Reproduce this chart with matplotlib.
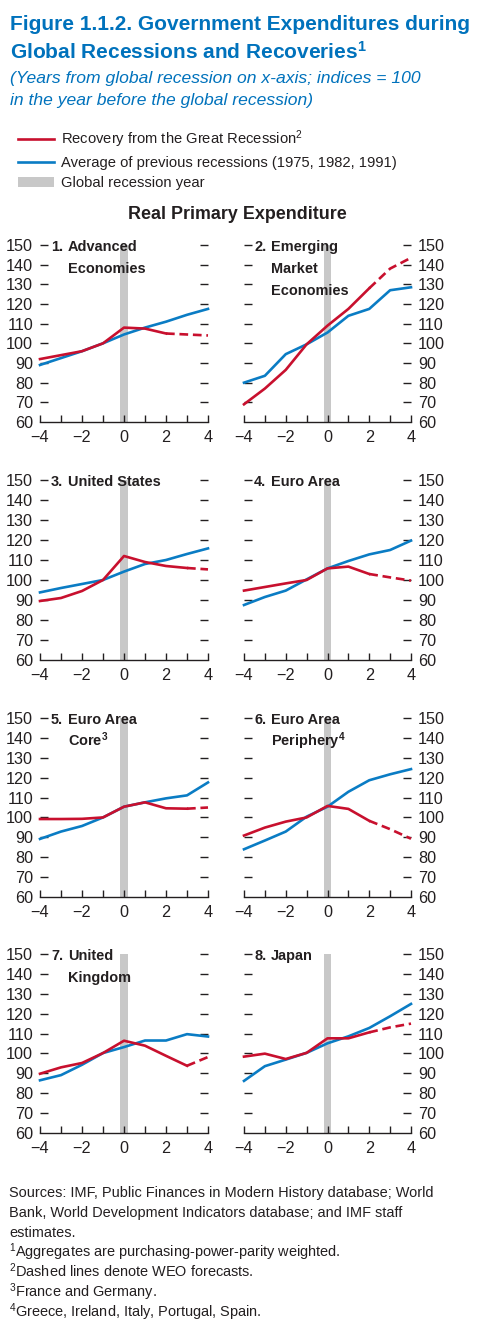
import matplotlib
matplotlib.use("Agg")
import matplotlib.pyplot as plt
from matplotlib.lines import Line2D
from matplotlib.patches import Patch

# Fonts: Arial-metric sans; sizes are fitted to the widths of the condensed original
plt.rcParams["font.family"] = ["Liberation Sans", "DejaVu Sans"]
plt.rcParams["mathtext.fontset"] = "custom"
plt.rcParams["mathtext.rm"] = "Liberation Sans"
plt.rcParams["mathtext.it"] = "Liberation Sans:italic"
plt.rcParams["mathtext.bf"] = "Liberation Sans:bold"

RED = "#C8102E"
BLUE = "#0A7CC4"
TITLE_BLUE = "#0072BC"
GRAY = "#C8C8C8"
INK = "#231F20"

W, H = 500, 1325

# Data: years from global recession, index = 100 in year before
years = [-4, -3, -2, -1, 0, 1, 2, 3, 4]

red_adv = [92, 94, 96, 100, 108, 107.5, 105, 104.5, 104]
blue_adv = [89, 92.5, 96, 100, 104.5, 108, 111, 114.5, 117.5]

red_em = [69, 77, 86.5, 99.5, 109, 117.5, 128, 138, 143.5]
blue_em = [80, 83.5, 94.5, 99.5, 105.5, 114, 117.5, 127, 128.5]

red_us = [89.5, 91, 94.5, 100, 112, 109, 107, 106, 105.3]
blue_us = [93.8, 96, 98, 100, 104.2, 108, 110, 113, 115.8]

red_ea = [94.7, 96.5, 98.3, 100, 105.8, 106.7, 103, 101.3, 99.7]
blue_ea = [87.5, 91.5, 94.7, 100.3, 105.8, 109.5, 112.8, 115, 119.7]

red_core = [99.2, 99.2, 99.3, 100, 105.4, 107.6, 104.6, 104.4, 105]
blue_core = [89.2, 92.9, 95.7, 100, 105.4, 107.6, 109.6, 111.1, 117.6]

red_peri = [90.9, 94.9, 97.9, 100, 105.8, 104.3, 98.3, 94.1, 89.3]
blue_peri = [84, 88.4, 92.9, 100.4, 105.4, 112.9, 118.7, 121.7, 124.3]

red_uk = [89.8, 93, 95.2, 100.2, 106.4, 103.9, 98.8, 93.8, 98.2]
blue_uk = [86.5, 89.1, 94.3, 100.2, 103.2, 106.5, 106.5, 109.7, 108.5]

red_jp = [98.4, 99.9, 97.2, 100.3, 107.6, 107.6, 110.6, 113.1, 115]
blue_jp = [86.2, 93.6, 96.9, 100.3, 105.1, 108.6, 112.8, 118.7, 124.9]

# first year of WEO forecast (dashed from here on)
forecast_start = [2, 2, 3, 2, 3, 2, 3, 2]

numbers = ["1.", "2.", "3.", "4.", "5.", "6.", "7.", "8."]
names = [
    ["Advanced", "Economies"],
    ["Emerging", "Market", "Economies"],
    ["United States"],
    ["Euro Area"],
    ["Euro Area", r"Core$^{\mathbf{3}}$"],
    ["Euro Area", r"Periphery$^{\mathbf{4}}$"],
    ["United", "Kingdom"],
    ["Japan"],
]

yticks = [60, 70, 80, 90, 100, 110, 120, 130, 140, 150]
xtick_labels = ["\u22124", "", "\u22122", "", "0", "", "2", "", "4"]

red_series = [red_adv, red_em, red_us, red_ea, red_core, red_peri, red_uk, red_jp]
blue_series = [blue_adv, blue_em, blue_us, blue_ea, blue_core, blue_peri, blue_uk, blue_jp]

fig = plt.figure(figsize=(W / 100, H / 100), dpi=100)
renderer = fig.canvas.get_renderer()


def fx(px):
    return px / W


def fy(px):
    return 1 - px / H


def fit_size(s, target_px, **kw):
    # font size that makes string s span target_px pixels
    t = fig.text(0, 0, s, fontsize=12, **kw)
    w = t.get_window_extent(renderer).width
    t.remove()
    return 12 * target_px / w


tick_fs = fit_size("150", 27)
panel_fs = fit_size("Advanced", 69, fontweight="bold")
title_fs = fit_size("Figure 1.1.2. Government Expenditures during", 457, fontweight="bold")
sub_fs = fit_size("(Years from global recession on x-axis; indices = 100", 409, style="italic")
leg_fs = fit_size("Average of previous recessions (1975, 1982, 1991)", 334)
head_fs = fit_size("Real Primary Expenditure", 217, fontweight="bold")
note_fs = fit_size("Sources: IMF, Public Finances in Modern History database; World", 423)

# panel geometry in pixels (top of 150, bottom of 60)
rows = [(245, 422), (480, 660), (718, 897), (954, 1133)]
cols = [(40, 208), (244, 411)]

for i in range(8):
    r, c = divmod(i, 2)
    top, bot = rows[r]
    left, right = cols[c]
    ax = fig.add_axes([fx(left), fy(bot), fx(right - left), (bot - top) / H])

    ax.axvspan(-0.19, 0.19, color=GRAY, lw=0, zorder=1)

    k = years.index(forecast_start[i])
    red = red_series[i]
    ax.plot(years, blue_series[i], color=BLUE, lw=1.9, zorder=3, clip_on=False)
    ax.plot(years[:k + 1], red[:k + 1], color=RED, lw=1.9, zorder=4, clip_on=False)
    ax.plot(years[k:], red[k:], color=RED, lw=1.9, zorder=4, clip_on=False,
            dashes=(3.3, 1.8))

    ax.set_xlim(-4, 4)
    ax.set_ylim(60, 150)
    for s in ["top", "left", "right"]:
        ax.spines[s].set_visible(False)
    ax.spines["bottom"].set_linewidth(1.0)
    ax.spines["bottom"].set_color(INK)

    ax.set_xticks(years)
    ax.set_xticklabels(xtick_labels)
    ax.tick_params(axis="x", direction="in", length=5, width=1.0, color=INK,
                   labelsize=tick_fs, labelcolor=INK, pad=6)
    ax.set_yticks(yticks)
    ax.tick_params(axis="y", direction="in", length=5.5, width=1.0, color=INK,
                   left=True, right=True, labelsize=tick_fs, labelcolor=INK, pad=5,
                   labelleft=(c == 0), labelright=(c == 1))
    # no dash at 60, the axis line is there
    ax.yaxis.get_major_ticks()[0].tick1line.set_visible(False)
    ax.yaxis.get_major_ticks()[0].tick2line.set_visible(False)

    x_num = -3.48 if c == 0 else -3.52
    x_name = -2.67 if c == 0 else -2.71
    ax.text(x_num, 147, numbers[i], fontsize=panel_fs, fontweight="bold", color=INK,
            va="baseline", ha="left", zorder=6)
    for j, line in enumerate(names[i]):
        ax.text(x_name, 147 - 11.3 * j, line, fontsize=panel_fs, fontweight="bold",
                color=INK, va="baseline", ha="left", zorder=6)

# Titles
fig.text(fx(10), fy(29.5), "Figure 1.1.2. Government Expenditures during",
         fontsize=title_fs, fontweight="bold", color=TITLE_BLUE, va="baseline")
fig.text(fx(10), fy(58.5), r"Global Recessions and Recoveries$^{\mathbf{1}}$",
         fontsize=title_fs, fontweight="bold", color=TITLE_BLUE, va="baseline")
fig.text(fx(10), fy(83), "(Years from global recession on x-axis; indices = 100",
         fontsize=sub_fs, style="italic", color=TITLE_BLUE, va="baseline")
fig.text(fx(10), fy(105), "in the year before the global recession)",
         fontsize=sub_fs, style="italic", color=TITLE_BLUE, va="baseline")

# Legend
handles = [
    Line2D([], [], color=RED, lw=1.9),
    Line2D([], [], color=BLUE, lw=1.9),
    Patch(facecolor=GRAY, edgecolor="none"),
]
labels = [
    r"Recovery from the Great Recession$^{2}$",
    "Average of previous recessions (1975, 1982, 1991)",
    "Global recession year",
]
leg_px = leg_fs * 100 / 72
fig.legend(handles, labels, loc="upper left", bbox_to_anchor=(fx(18), fy(128)),
           frameon=False, fontsize=leg_fs, handlelength=36 / leg_px,
           handleheight=0.6, handletextpad=7 / leg_px,
           labelspacing=(24 - 1.2 * leg_px) / leg_px, borderaxespad=0, borderpad=0,
           labelcolor=INK)

fig.text(fx(237), fy(219), "Real Primary Expenditure", fontsize=head_fs,
         fontweight="bold", color=INK, ha="center", va="baseline")

# Footnotes
notes = [
    "Sources: IMF, Public Finances in Modern History database; World",
    "Bank, World Development Indicators database; and IMF staff",
    "estimates.",
    r"$^{1}$Aggregates are purchasing-power-parity weighted.",
    r"$^{2}$Dashed lines denote WEO forecasts.",
    r"$^{3}$France and Germany.",
    r"$^{4}$Greece, Ireland, Italy, Portugal, Spain.",
]
for n, line in enumerate(notes):
    fig.text(fx(9), fy(1197 + 20 * n), line, fontsize=note_fs, color=INK,
             va="baseline")

fig.savefig("out.png", dpi=100)
